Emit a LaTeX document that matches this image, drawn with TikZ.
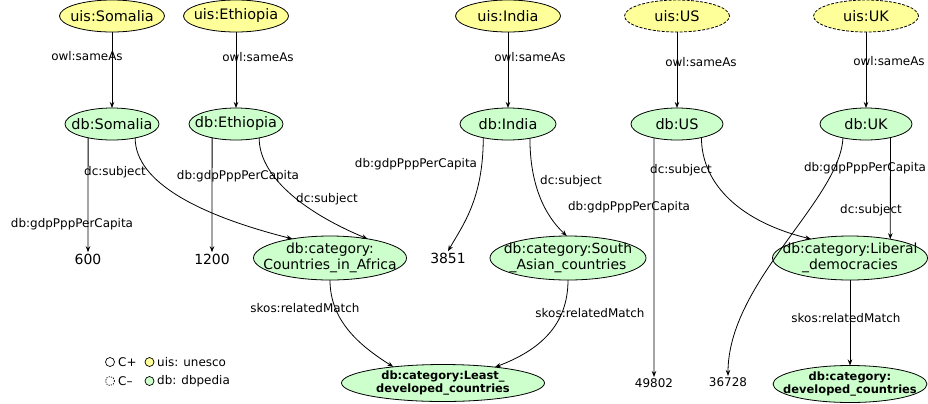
\documentclass[tikz,border=0pt]{standalone}
\usepackage{fontspec}
\setmainfont{DejaVu Sans}
\usetikzlibrary{shapes.geometric,arrows.meta}
\definecolor{uisyellow}{HTML}{FFFF99}
\definecolor{dbgreen}{HTML}{CCFFCC}
\tikzset{
  base/.style={ellipse,draw=black,line width=0.8bp,inner sep=0pt,outer sep=0pt},
  ntext/.style={inner sep=0pt,align=center,font=\fontsize{14.5}{17}\selectfont},
  ctext/.style={inner sep=0pt,align=center,font=\fontsize{14}{16.5}\selectfont},
  btext/.style={inner sep=0pt,align=center,font=\fontsize{11.5}{14}\selectfont\bfseries},
  uisnode/.style={base,fill=uisyellow,minimum width=105bp,minimum height=32bp},
  uisdash/.style={uisnode,dash pattern=on 3bp off 1.5bp},
  dbnode/.style={base,fill=dbgreen,minimum width=94bp,minimum height=32bp},
  catnode/.style={base,fill=dbgreen,minimum width=155bp,minimum height=44bp},
  boldcat/.style={base,fill=dbgreen,minimum height=37bp},
  valnode/.style={inner sep=1.5bp,outer sep=0pt,font=\fontsize{14}{16}\selectfont},
  smallval/.style={inner sep=1.5bp,outer sep=0pt,font=\fontsize{12}{14}\selectfont},
  lbl/.style={inner sep=0pt,font=\fontsize{12}{14}\selectfont},
  arr/.style={draw=black,line width=0.8bp,-{Stealth[length=6bp,width=4.5bp]}},
  legtext/.style={inner sep=0pt,anchor=west,font=\fontsize{12}{14}\selectfont},
}
\begin{document}
\begin{tikzpicture}[x=1bp,y=-1bp]
\useasboundingbox[fill=white] (0,0) rectangle (928,403);
% top row
\node[uisnode,label={[ntext]center:{uis:Somalia}}] (uSom) at (112,16) {};
\node[uisnode,label={[ntext]center:{uis:Ethiopia}}] (uEth) at (236,16) {};
\node[uisnode,label={[ntext]center:{uis:India}}] (uInd) at (508,16) {};
\node[uisdash,label={[ntext]center:{uis:US}}] (uUS) at (677,16) {};
\node[uisdash,label={[ntext]center:{uis:UK}}] (uUK) at (866,16) {};
% db row
\node[dbnode,label={[ntext]center:{db:Somalia}}] (dSom) at (112,124) {};
\node[dbnode,label={[ntext]center:{db:Ethiopia}}] (dEth) at (236,124) {};
\node[dbnode,minimum width=96bp,label={[ntext]center:{db:India}}] (dInd) at (508,124) {};
\node[dbnode,minimum width=92bp,label={[ntext]center:{db:US}}] (dUS) at (677,124) {};
\node[dbnode,minimum width=92bp,label={[ntext]center:{db:UK}}] (dUK) at (866,124) {};
% categories
\node[catnode,minimum width=153bp,label={[ctext]center:{db:category:\\Countries\_in\_Africa}}] (cAfr) at (330,258) {};
\node[catnode,minimum width=156bp,label={[ctext]center:{db:category:South\\\_Asian\_countries}}] (cSA) at (568,258) {};
\node[catnode,label={[ctext]center:{db:category:Liberal\\\_democracies}}] (cLib) at (850,258) {};
\node[boldcat,minimum width=203bp,label={[btext]center:{db:category:Least\_\\developed\_countries}}] (cLDC) at (443,383) {};
\node[boldcat,minimum width=154bp,label={[btext]center:{db:category:\\developed\_countries}}] (cDev) at (850,384) {};
% values
\node[valnode] (v600) at (88,259) {600};
\node[valnode] (v1200) at (212,259) {1200};
\node[valnode] (v3851) at (448,258) {3851};
\node[smallval] (v49802) at (654,383) {49802};
\node[smallval] (v36728) at (728,382) {36728};
% owl:sameAs
\draw[arr] (uSom) -- (dSom);
\draw[arr] (uEth) -- (dEth);
\draw[arr] (uInd) -- (dInd);
\draw[arr] (uUS) -- (dUS);
\draw[arr] (uUK) -- (dUK);
\node[lbl] at (87,56) {owl:sameAs};
\node[lbl] at (258,57) {owl:sameAs};
\node[lbl] at (530,57) {owl:sameAs};
\node[lbl] at (701,62) {owl:sameAs};
\node[lbl] at (889,61) {owl:sameAs};
% Somalia
\draw[arr] (dSom.-150) -- (v600);
\draw[arr] (dSom.-31) .. controls +(0,45) and +(-91,-23) .. (cAfr.153);
\node[lbl] at (115,172) {dc:subject};
\node[lbl] at (72,224) {db:gdpPppPerCapita};
% Ethiopia
\draw[arr] (dEth.-150) -- (v1200);
\draw[arr] (dEth.-31) .. controls +(0,37) and +(-67,-28) .. (cAfr.27.5);
\node[lbl] at (238,176) {db:gdpPppPerCapita};
\node[lbl] at (327,199) {dc:subject};
% India
\draw[arr] (dInd.-151) .. controls +(0,62) and +(14,-25) .. (v3851.north);
\draw[arr] (dInd.-33) .. controls +(0,57) and +(-15,-14) .. (cSA.93);
\node[lbl] at (416,164) {db:gdpPppPerCapita};
\node[lbl] at (571,181) {dc:subject};
% US
\draw[arr] (dUS.-149) -- (v49802);
\draw[arr] (dUS.-29.5) .. controls +(0,47) and +(-70,-17) .. (cLib.154.8);
\node[lbl] at (629,207) {db:gdpPppPerCapita};
\node[lbl] at (681,170) {dc:subject};
% UK
\draw[arr] (dUK.-149) .. controls +(-3,62) and +(0,-94) .. (v36728.north);
\draw[arr] (dUK.-29.5) -- (cLib.25.2);
\node[lbl] at (865,168) {db:gdpPppPerCapita};
\node[lbl] at (871,210) {dc:subject};
% relatedMatch
\draw[arr] (cAfr.south) .. controls +(0,40) and +(-35,-22) .. (cLDC.162.6);
\draw[arr] (cSA.south) .. controls +(0,45) and +(45,-17) .. (cLDC.17.1);
\draw[arr] (cLib) -- (cDev);
\node[lbl] at (305,308) {skos:relatedMatch};
\node[lbl] at (590,313) {skos:relatedMatch};
\node[lbl] at (846,318) {skos:relatedMatch};
% legend
\draw[line width=0.7bp] (110,362) circle (4.5);
\draw[line width=0.7bp,dash pattern=on 1.2bp off 1.2bp] (110,381) circle (4.5);
\draw[line width=0.7bp,fill=uisyellow] (149.5,362) circle (4.5);
\draw[line width=0.7bp,fill=dbgreen] (149.5,381) circle (4.5);
\node[legtext] at (118,362) {C+};
\node[legtext] at (118,381) {C–};
\node[legtext] at (157,362) {uis: unesco};
\node[legtext] at (157,381) {db: dbpedia};
\end{tikzpicture}
\end{document}
